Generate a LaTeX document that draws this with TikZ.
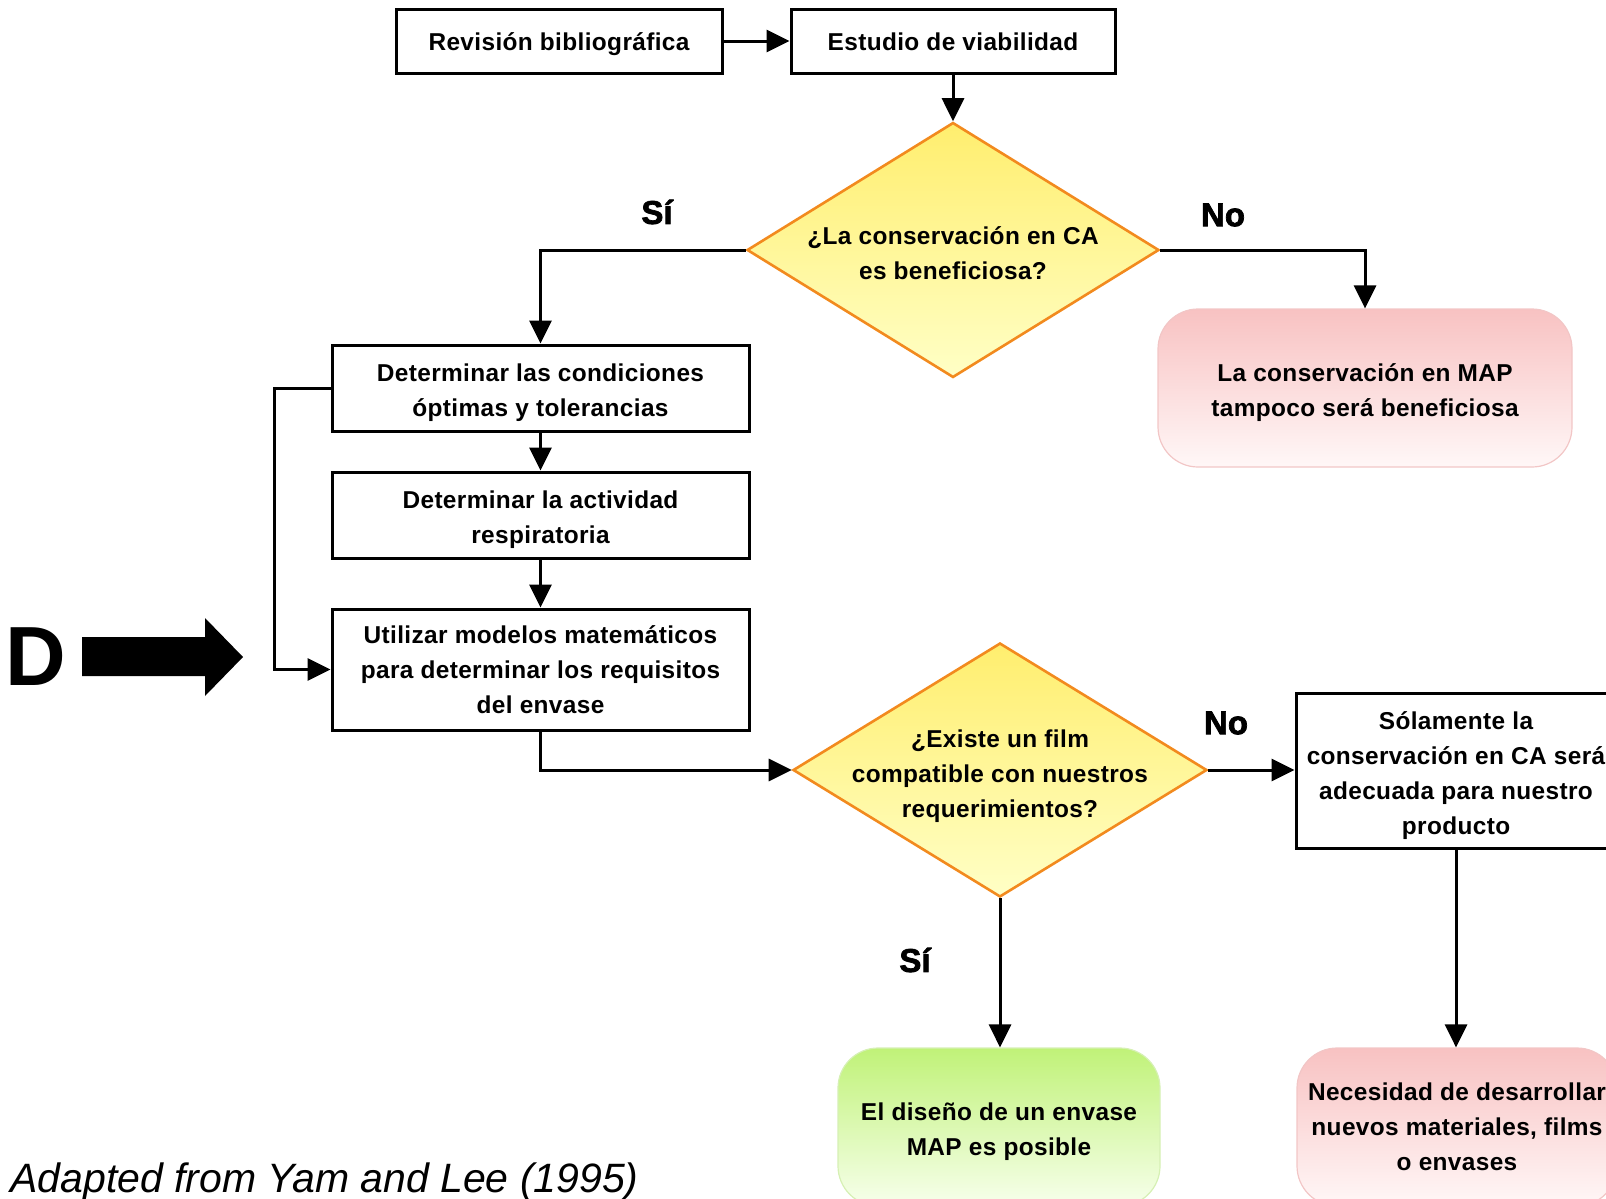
\documentclass[tikz,border=0pt]{standalone}
\usepackage{fontspec}
\setmainfont{Liberation Sans}[LetterSpace=1.5]
\newfontfamily\plainsf{Liberation Sans}
\newfontfamily\heavysf[FakeBold=2.2]{Liberation Sans Bold}
\usetikzlibrary{arrows.meta,shapes.geometric}

\definecolor{diatop}{HTML}{FFEE6E}
\definecolor{diabot}{HTML}{FFFFC6}
\definecolor{diaborder}{HTML}{F28A1E}
\definecolor{pinktop}{HTML}{F8C2C2}
\definecolor{pinkbot}{HTML}{FFF7F7}
\definecolor{pinkborder}{HTML}{F2C6C6}
\definecolor{greentop}{HTML}{C0F278}
\definecolor{greenbot}{HTML}{F7FFEC}
\definecolor{greenborder}{HTML}{D6F0B4}

% centred lines, set a little below the middle of their box
\newcommand\dropped[2][4pt]{\raisebox{0pt}[\dimexpr\height+#1\relax][\depth]{%
  \begin{tabular}{@{}c@{}}#2\end{tabular}}}

\tikzset{
  boxfont/.style={font=\bfseries\fontsize{12.2}{17.5}\selectfont},
  stepbox/.style={rectangle, draw=black, line width=1.5pt, fill=white,
    inner sep=0pt, align=center, boxfont},
  decision/.style={diamond, draw=diaborder, line width=1.3pt,
    top color=diatop, bottom color=diabot, inner sep=0pt},
  decisiontext/.style={align=center, inner sep=0pt, boxfont},
  outcome/.style={rectangle, rounded corners=20pt, line width=0.6pt,
    inner sep=0pt, align=center, boxfont},
  redend/.style={outcome, draw=pinkborder, top color=pinktop, bottom color=pinkbot},
  greenend/.style={outcome, draw=greenborder, top color=greentop, bottom color=greenbot},
  flow/.style={line width=1.5pt, -{Triangle[length=11.5pt,width=11pt]}},
  answer/.style={inner sep=0pt, font=\heavysf\fontsize{16.5}{20}\selectfont},
}

\begin{document}
\begin{tikzpicture}[x=0.5pt, y=-0.5pt]
\useasboundingbox (0,0) rectangle (1606,1199);
\clip (0,0) rectangle (1606,1199);

% top row
\node[stepbox, minimum width=163pt, minimum height=32pt] (rev) at (559,41) {\dropped[2pt]{Revisión bibliográfica}};
\node[stepbox, minimum width=162pt, minimum height=32pt] (est) at (953,41) {\dropped[2pt]{Estudio de viabilidad}};

% first decision
\node[decision, minimum width=206pt, minimum height=127.5pt] (d1) at (953,250) {};
\node[decisiontext] (d1t) at (953,253) {¿La conservación en CA\\es beneficiosa?};

\node[redend, minimum width=207pt, minimum height=79pt] (map) at (1365,388)
  {\dropped{La conservación en MAP\\tampoco será beneficiosa}};

% left column of steps
\node[stepbox, minimum width=208.5pt, minimum height=43pt] (cond) at (540.5,388)
  {\dropped{Determinar las condiciones\\óptimas y tolerancias}};
\node[stepbox, minimum width=208.5pt, minimum height=43pt] (act) at (540.5,515)
  {\dropped{Determinar la actividad\\respiratoria}};
\node[stepbox, minimum width=208.5pt, minimum height=60.5pt] (util) at (540.5,669.5)
  {\dropped[2pt]{Utilizar modelos matemáticos\\para determinar los requisitos\\del envase}};

% second decision
\node[decision, minimum width=207pt, minimum height=127pt] (d2) at (1000,770) {};
\node[decisiontext] (d2t) at (1000,776) {¿Existe un film\\compatible con nuestros\\requerimientos?};

\node[stepbox, minimum width=160pt, minimum height=77.5pt] (solo) at (1456,770.5)
  {\dropped{Sólamente la\\conservación en CA será\\adecuada para nuestro\\producto}};

\node[greenend, minimum width=161pt, minimum height=79pt] (ok) at (999,1127)
  {\dropped[3.5pt]{El diseño de un envase\\MAP es posible}};
\node[redend, minimum width=160pt, minimum height=79pt] (nec) at (1457,1127)
  {\dropped[1.5pt]{Necesidad de desarrollar\\nuevos materiales, films\\o envases}};

% branch labels
\node[answer] (si1) at (657,212) {Sí};
\node[answer] (no1) at (1223,215) {No};
\node[answer] (no2) at (1226,723) {No};
\node[answer] (si2) at (915,960) {Sí};

% connectors
\coordinate (fb) at (274,388);
\draw[flow] (rev) -- (est);
\draw[flow] (est) -- (d1);
\draw[flow] (d1.west) -| (cond.north);
\draw[flow] (d1.east) -| (map.north);
\draw[flow] (cond) -- (act);
\draw[flow] (act) -- (util);
\draw[flow] (cond.west) -- (cond.west -| fb) |- (util.west);
\draw[flow] (util.south) |- (d2.west);
\draw[flow] (d2.east) -- (d2.east -| solo.west);
\draw[flow] (d2.south) -- (d2.south |- ok.north);
\draw[flow] (solo.south) -- (solo.south |- nec.north);

% marker on the left
\node[inner sep=0pt, font=\plainsf\bfseries\fontsize{42}{42}\selectfont] (dmark) at (36,657) {D};
\fill (82,637) -- (205,637) -- (205,618) -- (243,657) -- (205,696) -- (205,676) -- (82,676) -- cycle;

% source
\node[anchor=base west, inner sep=0pt, font=\plainsf\itshape\fontsize{20.5}{24}\selectfont] (src) at (10,1192)
  {Adapted from Yam and Lee (1995)};
\end{tikzpicture}
\end{document}
